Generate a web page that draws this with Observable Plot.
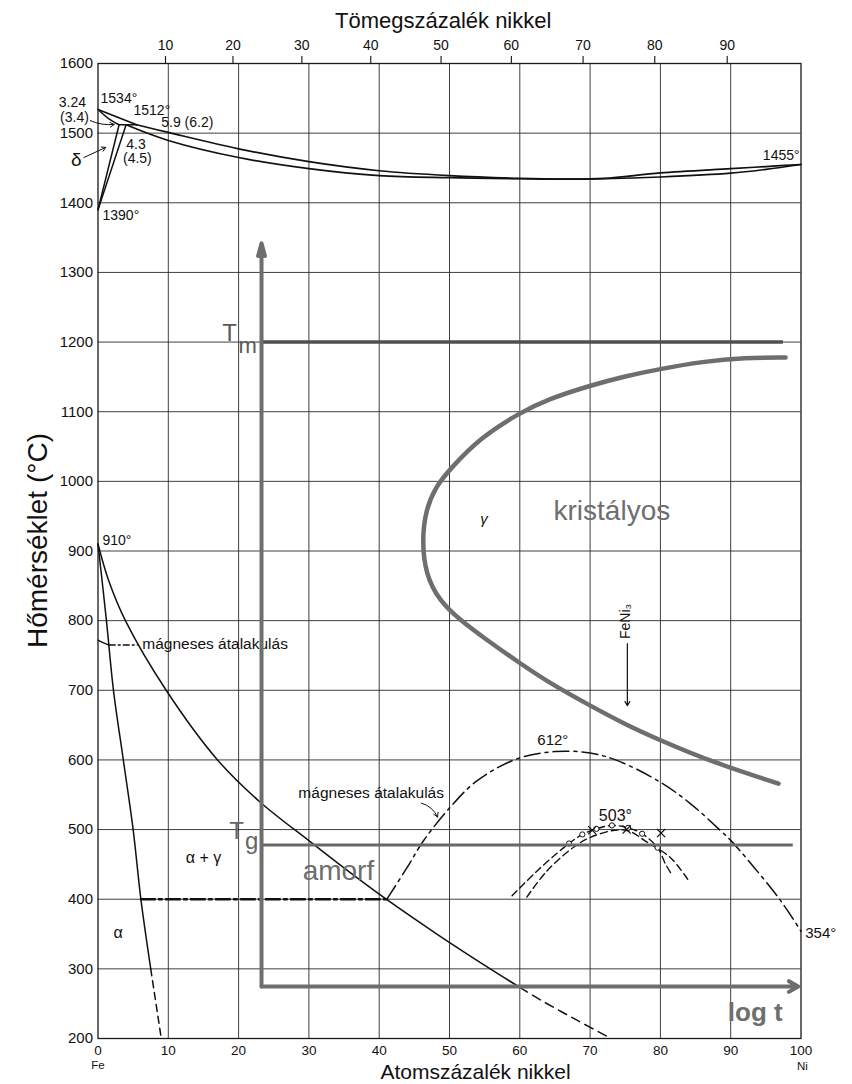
<!DOCTYPE html>
<html><head><meta charset="utf-8">
<script src="https://cdn.jsdelivr.net/npm/d3@7"></script>
<script src="https://cdn.jsdelivr.net/npm/@observablehq/plot@0.6"></script>
<style>body{margin:0;background:#fff}svg{display:block}</style>
</head><body><div id="chart"></div>
<script>
// ---- tick values ----
const xTicks = [0,10,20,30,40,50,60,70,80,90,100];
const yTicks = [200,300,400,500,600,700,800,900,1000,1100,1200,1300,1400,1500,1600];
const topTickLabels = [10,20,30,40,50,60,70,80,90];            // mass % Ni
const topTickPositions = [9.6,19.2,29.0,38.8,48.8,58.8,69.0,79.2,89.5]; // same, in atom %

// ---- phase diagram curves (atom % Ni, °C) ----
const liquidusFe = [[0,1534],[5.5,1512]];
const liquidus = [[5.5,1512],[10,1501],[20,1477.5],[30,1459],[40,1446],[50,1439],[60,1435],[66,1434],[72,1435],[80,1443],[90,1449],[95,1452],[100,1455]];
const solidus = [[4.0,1512],[10,1489.5],[20,1465],[30,1449],[40,1439],[50,1436],[60,1434.5],[66,1434],[72,1434.5],[80,1437],[90,1442.5],[95,1448],[100,1455]];
const deltaSolidus = [[0,1534],[1.5,1521],[3.0,1512]];
const peritectic = [[3.0,1512],[5.5,1512]];
const deltaBoundary = [[0,1390],[3.0,1512]];
const gammaDeltaBoundary = [[0,1390],[4.0,1512]];
const alphaSolid = [[0,910],[1.2,800],[2.2,700],[3.6,600],[5.0,500],[6.1,400],[7.5,300]];
const alphaDashed = [[7.5,300],[9.0,200]];
const gammaSolid = [[0,910],[1.5,858],[3.9,800],[9.7,700],[17.0,600],[23,540],[30,484],[35.5,441],[41,400],[48.2,350],[55.8,300],[60,273.5]];
const gammaDashed = [[60,273.5],[63,255],[68,227],[73,200]];
const magneticFeCurve = [[0,772],[0.8,768],[1.6,765]];
const magneticFeLine = [[1.6,765],[5.6,765]];
const line400 = [[6.1,400],[41.1,400]];
const magneticNi = [[41.1,400],[44,446],[46.3,484],[50.1,532],[53.9,570],[59.6,601.5],[65,612],[70,610],[73.9,599],[80,568],[84.3,537],[88.5,499],[90,484.5],[93.3,446],[97.1,398],[100,354]];
const order503a = [[58.9,405],[62.5,441],[65.3,466],[67,480],[68.9,493],[70.9,501],[73.1,506],[75.4,502.5],[77.4,494],[79.6,474],[80.7,451],[81.7,434]];
const order503b = [[61,403],[63.9,441],[67.7,475],[70.1,489],[73.5,499],[75.5,498],[78.1,482],[81.4,460],[84,427]];
const circlePoints = [[67,480],[68.9,493],[70.9,501],[73.1,506],[75.4,502.5],[77.4,494],[79.6,474]];
const crossPoints = [[70.3,499],[75.2,500],[80.1,495]];

// ---- overlaid TTT sketch ----
const tttNose = [[97.8,1178],[92,1177.5],[86,1172],[80,1161.6],[75,1151],[70,1137.6],[64,1118],[60.1,1099],[54.4,1063],[50.1,1018],[48,992],[46.6,958],[46.1,915],[46.6,867],[48.5,829],[51.6,800],[54.8,776],[60.1,738],[64.8,707],[70,678],[75,651],[80,628],[87.6,596],[96.8,566]];
const Tm = 1200, Tg = 478;

const ink = "#111";
const gray = "#6e6e6e";
const FONT = "'Liberation Sans', Arial, Helvetica, sans-serif";

function lbl(t, x, y, o = {}) {
  return Plot.text([{x, y, t}], {x: "x", y: "y", text: "t", fill: ink, fontSize: 14, ...o});
}
function arr(x1, y1, x2, y2, o = {}) {
  return Plot.arrow([{x1, y1, x2, y2}], {x1: "x1", y1: "y1", x2: "x2", y2: "y2", ...o});
}
const curve = "catmull-rom";

const chart = Plot.plot({
  width: 852, height: 1084,
  marginLeft: 97.5, marginRight: 51.5, marginTop: 63, marginBottom: 46,
  x: {domain: [0, 100], axis: null},
  y: {domain: [200, 1600], axis: null},
  style: {fontFamily: FONT, background: "white"},
  marks: [
    // grid
    Plot.ruleX(xTicks.slice(1, -1), {x: d => d, stroke: "#2a2a2a", strokeWidth: 0.9}),
    Plot.ruleY(yTicks.slice(1, -1), {y: d => d, stroke: "#2a2a2a", strokeWidth: 0.9}),
    Plot.frame({stroke: "#1a1a1a", strokeWidth: 1.3}),
    // top ticks
    Plot.ruleX(topTickPositions, {x: d => d, y1: 1600, y2: 1610, stroke: ink, strokeWidth: 1.1}),
    // axis labels
    Plot.text(topTickLabels, {x: (d, i) => topTickPositions[i], y: () => 1626, text: d => String(d), fontSize: 14, fill: ink}),
    Plot.text(xTicks, {x: d => d, y: () => 183, text: d => String(d), fontSize: 13.5, fill: ink}),
    Plot.text(yTicks, {x: () => 0, y: d => d, text: d => String(d), textAnchor: "end", dx: -5, fontSize: 15, fill: ink}),
    lbl("Fe", 0, 161, {fontSize: 11.5}),
    lbl("Ni", 100.2, 160, {fontSize: 11.5}),
    lbl("Tömegszázalék nikkel", 49.1, 1661.5, {fontSize: 22}),
    lbl("Atomszázalék nikkel", 53.7, 152, {fontSize: 21}),
    lbl("Hőmérséklet (°C)", -8.6, 915, {fontSize: 28, rotate: -90}),

    // high temperature region
    Plot.line(liquidusFe, {stroke: ink, strokeWidth: 1.7}),
    Plot.line(liquidus, {curve, stroke: ink, strokeWidth: 1.7}),
    Plot.line(solidus, {curve, stroke: ink, strokeWidth: 1.7}),
    Plot.line(deltaSolidus, {curve, stroke: ink, strokeWidth: 1.5}),
    Plot.line(peritectic, {stroke: ink, strokeWidth: 1.5}),
    Plot.line(deltaBoundary, {stroke: ink, strokeWidth: 1.5}),
    Plot.line(gammaDeltaBoundary, {stroke: ink, strokeWidth: 1.5}),
    arr(-1.1, 1518, 2.3, 1512.5, {stroke: ink, strokeWidth: 1, headLength: 7, bend: -15}),
    arr(-2.0, 1465, 1.1, 1479.5, {stroke: ink, strokeWidth: 1, headLength: 7}),
    lbl("1534°", 0.36, 1549.5, {textAnchor: "start"}),
    lbl("1512°", 5.05, 1532.5, {textAnchor: "start"}),
    lbl("5.9 (6.2)", 9.0, 1515.5, {textAnchor: "start"}),
    lbl("3.24", -1.7, 1544, {textAnchor: "end"}),
    lbl("(3.4)", -1.3, 1522.5, {textAnchor: "end"}),
    lbl("4.3", 5.4, 1484),
    lbl("(4.5)", 5.6, 1463.5),
    lbl("δ", -3.1, 1461, {fontSize: 19}),
    lbl("1390°", 0.64, 1381.5, {textAnchor: "start"}),
    lbl("1455°", 99.8, 1468, {textAnchor: "end"}),

    // low temperature region
    Plot.line(alphaSolid, {curve, stroke: ink, strokeWidth: 1.5}),
    Plot.line(alphaDashed, {stroke: ink, strokeWidth: 1.5, strokeDasharray: "7,5"}),
    Plot.line(gammaSolid, {curve, stroke: ink, strokeWidth: 1.5}),
    Plot.line(gammaDashed, {curve, stroke: ink, strokeWidth: 1.5, strokeDasharray: "9,6"}),
    Plot.line(magneticFeCurve, {curve, stroke: ink, strokeWidth: 1.3}),
    Plot.line(magneticFeLine, {stroke: ink, strokeWidth: 1.3, strokeDasharray: "6,3,2,3"}),
    Plot.line(line400, {stroke: ink, strokeWidth: 2.4, strokeDasharray: "14,4,3,4"}),
    Plot.line(magneticNi, {curve, stroke: ink, strokeWidth: 1.5, strokeDasharray: "16,5,3,5"}),
    Plot.line(order503a, {curve, stroke: ink, strokeWidth: 1.4, strokeDasharray: "7,4"}),
    Plot.line(order503b, {curve, stroke: ink, strokeWidth: 1.4, strokeDasharray: "7,4"}),
    Plot.dot(circlePoints, {r: 2.6, stroke: ink, fill: "white", strokeWidth: 1}),
    Plot.dot(crossPoints, {symbol: "times", r: 3.8, stroke: ink, strokeWidth: 1.2}),
    lbl("910°", 0.64, 915, {textAnchor: "start"}),
    lbl("mágneses átalakulás", 6.3, 767, {textAnchor: "start", fontSize: 15.5}),
    lbl("α + γ", 15.0, 460, {fontSize: 16}),
    lbl("α", 2.85, 351, {fontSize: 16}),
    lbl("mágneses átalakulás", 28.5, 552, {textAnchor: "start", fontSize: 15.5}),
    arr(46.0, 538, 48.3, 518, {stroke: ink, strokeWidth: 1, headLength: 7, bend: 25}),
    lbl("612°", 64.7, 628, {fontSize: 15}),
    lbl("503°", 73.6, 520, {fontSize: 16}),
    lbl("354°", 100.6, 351, {textAnchor: "start", fontSize: 15}),
    lbl("γ", 54.9, 946, {fontSize: 15, fontStyle: "italic"}),
    lbl("FeNi₃", 75.0, 799, {fontSize: 14, rotate: -90}),
    arr(75.3, 767, 75.3, 678, {stroke: ink, strokeWidth: 1.2, headLength: 6}),

    // overlaid TTT sketch (gray)
    Plot.ruleY([Tm], {y: d => d, x1: 23.26, x2: 97.5, stroke: "#4f4f4f", strokeWidth: 3.5}),
    Plot.ruleY([Tg], {y: d => d, x1: 23.26, x2: 98.9, stroke: "#686868", strokeWidth: 3}),
    Plot.line(tttNose, {curve: "basis", stroke: gray, strokeWidth: 4.5}),
    arr(23.26, 274.6, 23.26, 1342, {stroke: gray, strokeWidth: 4, headLength: 5, headAngle: 30}),
    arr(23.26, 274.6, 99.6, 274.6, {stroke: gray, strokeWidth: 4, headLength: 4, headAngle: 60}),
    lbl("T", 18.7, 1213, {fontSize: 24, fill: "#5a5a5a"}),
    lbl("m", 21.3, 1195, {fontSize: 22, fill: "#5a5a5a"}),
    lbl("T", 19.7, 497, {fontSize: 24, fill: "#666"}),
    lbl("g", 21.85, 483, {fontSize: 24, fill: "#666"}),
    lbl("kristályos", 73.1, 957, {fontSize: 28, fill: gray}),
    lbl("amorf", 34.2, 440, {fontSize: 28, fill: gray}),
    lbl("log t", 93.5, 237, {fontSize: 26, fill: gray, fontWeight: "bold"})
  ]
});
document.getElementById("chart").append(chart);
</script>
</body></html>
